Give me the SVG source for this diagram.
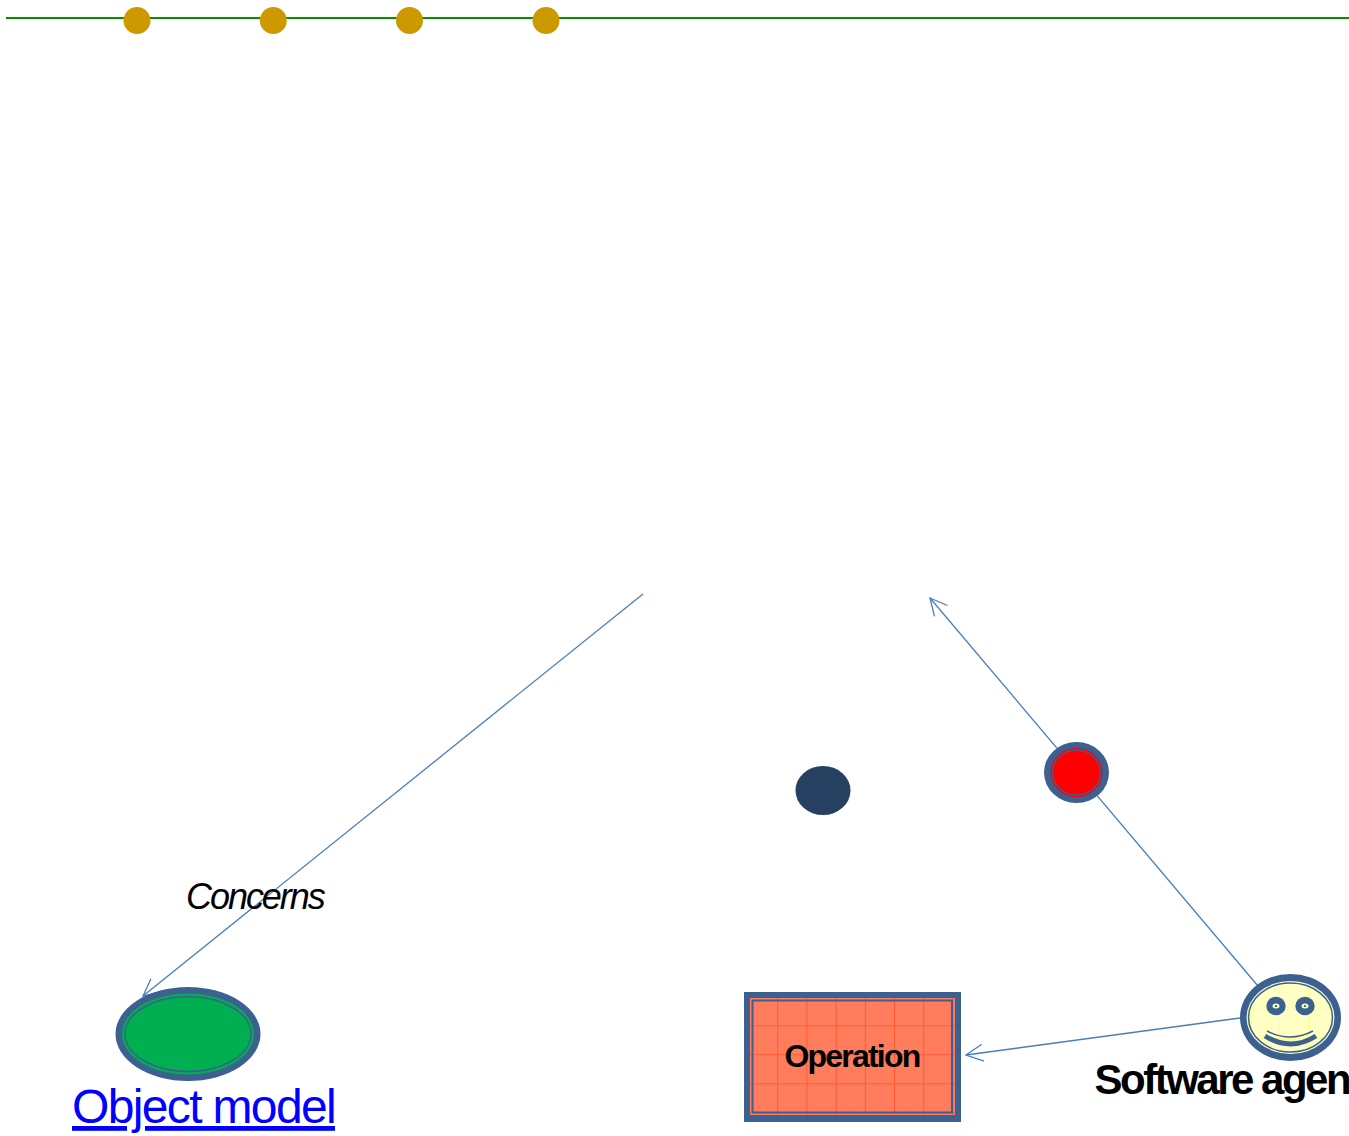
<svg xmlns="http://www.w3.org/2000/svg" width="1349" height="1136" viewBox="0 0 1349 1136">
<style>
.conn{fill:none;stroke:#4a7ebb;stroke-width:1.300}
.dot{fill:#cc9900}
.blue{stroke:#3c6190;fill:none}
text{font-family:"Liberation Sans",Arial,sans-serif;fill:#000}
</style>
<defs>
<marker id="arr" viewBox="0 0 20 20" refX="19" refY="10" markerWidth="20" markerHeight="20" markerUnits="userSpaceOnUse" orient="auto"><path d="M2 1.500 L19 10 L2 18.500" fill="none" stroke="#4a7ebb" stroke-width="1.300"/></marker>
<pattern id="gridO" x="748" y="996.300" width="29.200" height="29" patternUnits="userSpaceOnUse"><rect width="29.200" height="29" fill="#ff7d5c"/><path d="M0 .5H29.200M.5 0V29" stroke="#ff5a30" stroke-width="1"/></pattern>
<pattern id="gridY" x="1250" y="980" width="29" height="29" patternUnits="userSpaceOnUse"><rect width="29" height="29" fill="#ffffc4"/><path d="M0 .5H29M.5 0V29" stroke="#ffff90" stroke-width="1"/></pattern>
</defs>
<g id="timeline">
<line x1="6" y1="18" x2="1349" y2="18" stroke="#009300" stroke-width="2"/>
<circle class="dot" cx="137" cy="20.500" r="13.500"/>
<circle class="dot" cx="273.300" cy="20.500" r="13.500"/>
<circle class="dot" cx="409.500" cy="20.500" r="13.500"/>
<circle class="dot" cx="546" cy="20.500" r="13.500"/>
</g>
<g id="connectors">
<line class="conn" x1="643" y1="594" x2="143" y2="996" marker-end="url(#arr)"/>
<line class="conn" x1="1258" y1="986" x2="930" y2="598" marker-end="url(#arr)"/>
<line class="conn" x1="1240" y1="1018" x2="966" y2="1055" marker-end="url(#arr)"/>
</g>
<g id="concerns"><text x="186" y="909" font-size="36" font-style="italic" letter-spacing="-2.050">Concerns</text></g>
<g id="object-model">
<ellipse cx="188" cy="1034" rx="72.500" ry="47" fill="#3c6190"/>
<ellipse cx="188" cy="1034" rx="66" ry="40.500" fill="#00b050"/>
<ellipse cx="188" cy="1034" rx="63" ry="37.500" class="blue" stroke-width="1.500"/>
<text x="72" y="1123" font-size="48" style="fill:#0000ff;text-decoration:underline" letter-spacing="-1.650">Object model</text>
</g>
<g id="blue-dot"><ellipse cx="823" cy="790.500" rx="27.500" ry="24.500" fill="#264061"/></g>
<g id="red-node">
<ellipse cx="1076.500" cy="772.500" rx="32.500" ry="30.500" fill="#3c6190"/>
<ellipse cx="1076.500" cy="772.500" rx="26" ry="24.500" fill="#ff0000"/>
<ellipse cx="1076.500" cy="772.500" rx="24" ry="22.500" class="blue" stroke-width="1.400"/>
</g>
<g id="operation">
<rect x="744" y="992" width="217" height="130" fill="#3c6190"/>
<rect x="750" y="998" width="205" height="117" fill="url(#gridO)"/>
<rect x="752.500" y="1000.500" width="199.500" height="112" class="blue" stroke-width="2"/>
<text x="784.500" y="1067" font-size="32" font-weight="bold" letter-spacing="-1.800">Operation</text>
</g>
<g id="software-agent">
<ellipse cx="1290.500" cy="1017.500" rx="50.500" ry="43.500" fill="#3c6190"/>
<ellipse cx="1290.500" cy="1017.500" rx="44" ry="36.500" fill="#ffffc4"/>
<ellipse cx="1290.500" cy="1017.500" rx="42" ry="34.500" class="blue" style="fill:url(#gridY)" stroke-width="1.500"/>
<ellipse cx="1276" cy="1006" rx="9.700" ry="9.200" fill="#3c6190"/>
<ellipse cx="1305" cy="1006" rx="9.700" ry="9.200" fill="#3c6190"/>
<ellipse cx="1276" cy="1006" rx="3.500" ry="2.500" fill="#ffffc4"/>
<ellipse cx="1305" cy="1006" rx="3.500" ry="2.500" fill="#ffffc4"/>
<ellipse cx="1276" cy="1006" rx="1.300" ry="1" fill="#3c6190"/>
<ellipse cx="1305" cy="1006" rx="1.300" ry="1" fill="#3c6190"/>
<path d="M1267 1031 Q1290 1043 1313 1031" class="blue" stroke-width="1.500"/>
<path d="M1265 1036 Q1290.500 1052 1316 1036" class="blue" stroke-width="5"/>
<text x="1094.500" y="1094" font-size="42" font-weight="bold" letter-spacing="-2.500">Software agen</text>
</g>
</svg>
